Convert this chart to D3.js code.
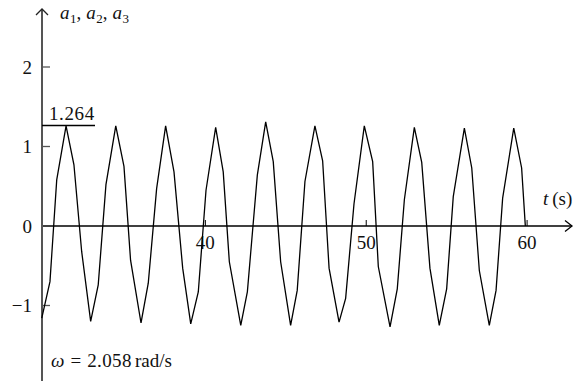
<!DOCTYPE html>
<html lang="en">
<head>
  <meta charset="UTF-8">
  <title>a1, a2, a3 vs t</title>
  <script src="https://d3js.org/d3.v7.min.js"></script>
  <style>
    body { margin: 0; padding: 0; background: #fff; }
    text { font-family: "Liberation Serif", "DejaVu Serif", serif; fill: #111; }
  </style>
</head>
<body>
  <div id="chart"></div>
  <script>
    // time (s) and amplitude of each drawn vertex
    const times = [29.83, 30.34, 30.76, 31.34, 31.83, 32.31, 32.87, 33.34, 33.82, 34.43,
      34.94, 35.35, 36.00, 36.45, 36.97, 37.53, 38.05, 38.59, 39.09, 39.56,
      40.04, 40.64, 41.11, 41.49, 42.20, 42.61, 43.23, 43.75, 44.22, 44.68,
      45.30, 45.71, 46.19, 46.81, 47.29, 47.69, 48.31, 48.72, 49.24, 49.88,
      50.40, 50.75, 51.48, 51.93, 52.37, 52.99, 53.45, 53.96, 54.54, 55.00,
      55.41, 56.10, 56.56, 57.03, 57.65, 58.07, 58.48, 59.17, 59.66, 59.89];
    const values = [-1.16, -0.70, 0.58, 1.26, 0.77, -0.32, -1.20, -0.74, 0.52, 1.26,
      0.75, -0.43, -1.22, -0.72, 0.47, 1.26, 0.68, -0.53, -1.23, -0.83,
      0.45, 1.24, 0.68, -0.45, -1.25, -0.83, 0.64, 1.31, 0.81, -0.45,
      -1.25, -0.81, 0.56, 1.26, 0.82, -0.53, -1.21, -0.91, 0.28, 1.26,
      0.81, -0.51, -1.27, -0.79, 0.33, 1.24, 0.80, -0.53, -1.25, -0.79,
      0.37, 1.23, 0.73, -0.56, -1.25, -0.81, 0.35, 1.23, 0.73, 0.00];
    const xTicks = [40, 50, 60];
    const yTicks = [-1, 0, 1, 2];
    const peakValue = 1.264;
    const omegaParts = ["ω", "=", "2.058", "rad/s"];

    const data = times.map((t, i) => ({ t: t, v: values[i] }));

    const W = 575, H = 381;
    const axisX = 42;
    const fs = 19;

    const svg = d3.select("#chart").append("svg")
      .attr("width", W)
      .attr("height", H);

    const x = d3.scaleLinear().domain([30, 60]).range([44.5, 527.1]);
    const y = d3.scaleLinear().domain([0, 1]).range([226, 146.5]);

    // x axis with arrow
    svg.append("line")
      .attr("x1", axisX).attr("x2", 572)
      .attr("y1", y(0)).attr("y2", y(0))
      .attr("stroke", "#000").attr("stroke-width", 1.3);
    svg.append("path")
      .attr("d", `M565,${y(0) - 5.5}L572,${y(0)}L565,${y(0) + 5.5}`)
      .attr("fill", "none").attr("stroke", "#000").attr("stroke-width", 1.3);

    svg.selectAll(".xtick").data(xTicks).join("line")
      .attr("class", "xtick")
      .attr("x1", d => x(d)).attr("x2", d => x(d))
      .attr("y1", y(0)).attr("y2", y(0) - 6)
      .attr("stroke", "#000").attr("stroke-width", 1);
    svg.selectAll(".xlabel").data(xTicks).join("text")
      .attr("class", "xlabel")
      .attr("x", d => x(d)).attr("y", 249)
      .attr("text-anchor", "middle")
      .attr("font-size", fs)
      .text(d => d);

    // y axis with arrow
    svg.append("line")
      .attr("x1", axisX).attr("x2", axisX)
      .attr("y1", 10).attr("y2", H)
      .attr("stroke", "#555").attr("stroke-width", 2);
    svg.append("path")
      .attr("d", `M${axisX - 6},15L${axisX},9L${axisX + 6},15`)
      .attr("fill", "none").attr("stroke", "#222").attr("stroke-width", 1.3);

    svg.selectAll(".ytick").data(yTicks.filter(d => d !== 0)).join("line")
      .attr("class", "ytick")
      .attr("x1", axisX).attr("x2", axisX + 8)
      .attr("y1", d => y(d)).attr("y2", d => y(d))
      .attr("stroke", "#555").attr("stroke-width", 1.3);
    svg.selectAll(".ylabel").data(yTicks).join("text")
      .attr("class", "ylabel")
      .attr("x", 32).attr("y", d => y(d))
      .attr("dy", "0.35em")
      .attr("text-anchor", "end")
      .attr("font-size", fs)
      .text(d => d < 0 ? "\u2212" + Math.abs(d) : d);

    // peak marker
    svg.append("line")
      .attr("x1", axisX).attr("x2", 95)
      .attr("y1", y(peakValue)).attr("y2", y(peakValue))
      .attr("stroke", "#000").attr("stroke-width", 1.3);
    svg.append("text")
      .attr("x", 49).attr("y", y(peakValue) - 6)
      .attr("font-size", fs)
      .attr("letter-spacing", 0.6)
      .text(peakValue);

    // signal
    svg.append("path")
      .datum(data)
      .attr("fill", "none")
      .attr("stroke", "#000")
      .attr("stroke-width", 1.3)
      .attr("d", d3.line().x(d => x(d.t)).y(d => y(d.v)));

    // axis titles
    const yt = svg.append("text").attr("x", 60).attr("y", 19).attr("font-size", fs);
    ["1", "2", "3"].forEach((s, i) => {
      yt.append("tspan").attr("font-style", "italic").attr("dx", i ? 5 : 0).text("a");
      yt.append("tspan").attr("font-size", 13).attr("dy", 4).attr("dx", 0.5).text(s);
      yt.append("tspan").attr("dy", -4).text(i < 2 ? "," : "");
    });

    const xt = svg.append("text").attr("x", 543).attr("y", 205).attr("font-size", fs);
    xt.append("tspan").attr("font-style", "italic").text("t");
    xt.append("tspan").attr("dx", 4).text("(s)");

    const om = svg.append("text").attr("x", 51).attr("y", 367).attr("font-size", fs);
    om.append("tspan").attr("font-style", "italic").text(omegaParts[0]);
    om.append("tspan").attr("dx", 6).text(omegaParts[1]);
    om.append("tspan").attr("dx", 6).attr("letter-spacing", 0.4).text(omegaParts[2]);
    om.append("tspan").attr("dx", 3).text(omegaParts[3]);
  </script>
</body>
</html>
